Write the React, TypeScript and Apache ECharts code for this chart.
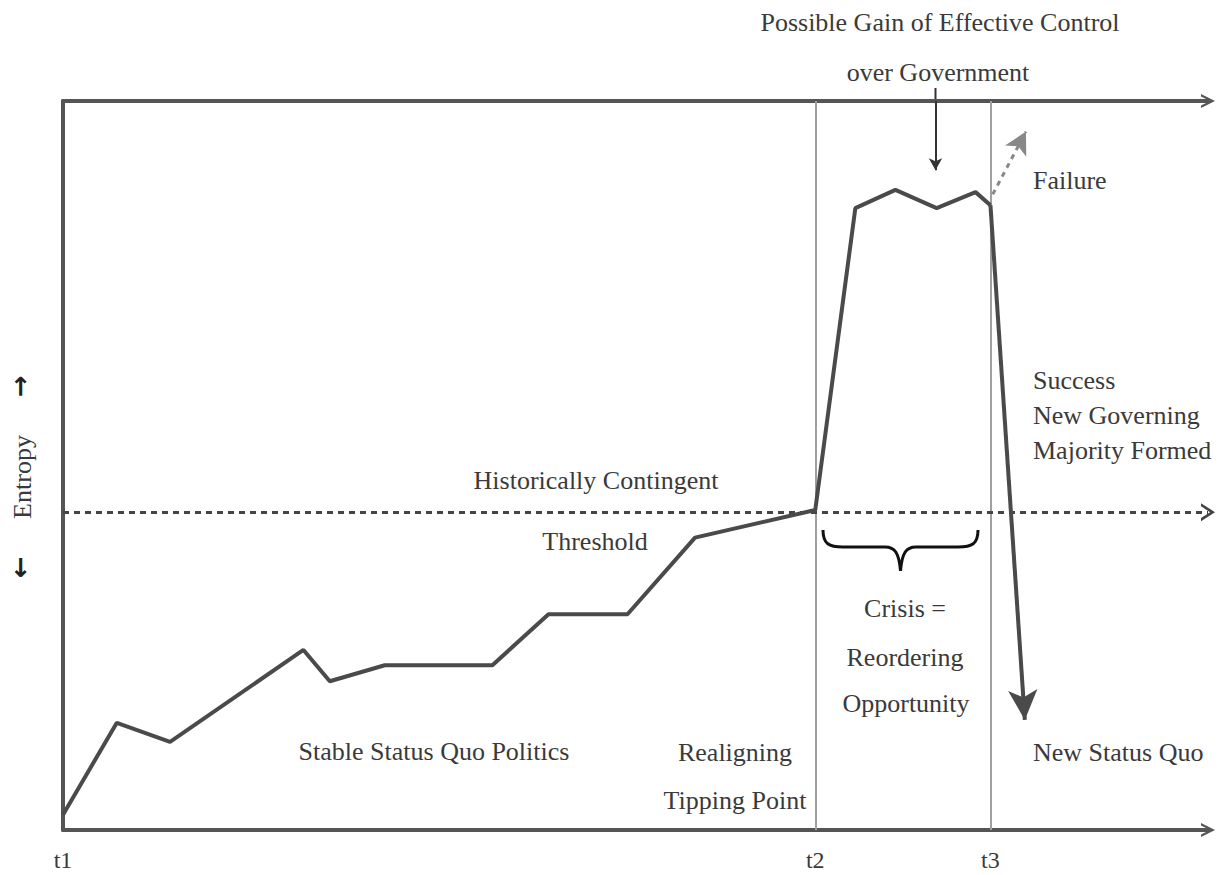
import React, { useEffect, useRef } from "react";
import * as echarts from "echarts";

// Entropy path (x: time 0-100, y: entropy 0-100)
const pathX = [0, 4.7, 9.35, 21.0, 23.3, 28.1, 37.5, 42.4, 49.3, 55.2, 65.7, 69.2, 72.7, 76.3, 79.7, 81.0];
const pathY = [2.1, 14.7, 12.1, 24.7, 20.4, 22.6, 22.6, 29.6, 29.6, 40.1, 43.9, 85.3, 87.8, 85.3, 87.5, 85.7];
const dropEnd = [84.0, 15.1];
const failureStart = [81.2, 87.2];
const failureEnd = [84.1, 95.8];
const gainArrowX = 76.2;
const gainArrowY = [100, 90.5];
const thresholdY = 43.6;
const timeMarks = [0, 65.7, 81.0];
const timeLabels = ["t1", "t2", "t3"];

const CHEVRON = "path://M0,20 L10,0 L20,20 L16.5,20 L10,7 L3.5,20 Z";
const BRACE =
  "M0,0 C0,14 6,17 20,17 L62,17 C72,17 76,23 77.5,41 C79,23 83,17 93,17 L135,17 C149,17 155,14 155,0";

echarts.graphic.registerShape("brace", (echarts.graphic as any).extendPath(BRACE, {}));

const FONT = "'Liberation Serif', 'DejaVu Serif', serif";
const TXT = "#3a3a3a";

function txt(text: string, x: number, y: number, align: string = "center", extra: any = {}) {
  return {
    type: "text",
    x,
    y,
    ...extra,
    style: {
      text,
      fontFamily: FONT,
      fontSize: 26,
      fill: TXT,
      align,
      verticalAlign: "middle",
    },
  };
}

export default function App() {
  const ref = useRef<HTMLDivElement>(null);
  useEffect(() => {
    if (!ref.current) return;
    const chart = echarts.init(ref.current, undefined, { renderer: "svg" });
    const data = pathX.map((x, i) => [x, pathY[i]]);
    const last = data[data.length - 1];
    const graphics: any[] = [
      txt("Possible Gain of Effective Control", 940, 22),
      txt("over Government", 938, 72),
      txt("Failure", 1033, 180, "left"),
      txt("Success", 1033, 380, "left"),
      txt("New Governing", 1033, 415, "left"),
      txt("Majority Formed", 1033, 450, "left"),
      txt("Historically Contingent", 596, 480),
      txt("Threshold", 595, 541),
      txt("Crisis =", 905, 608),
      txt("Reordering", 905, 657),
      txt("Opportunity", 906, 703),
      txt("Stable Status Quo Politics", 434, 751),
      txt("Realigning", 735, 752),
      txt("Tipping Point", 735, 800),
      txt("New Status Quo", 1033, 752, "left"),
      {
        type: "text",
        x: 22,
        y: 477,
        rotation: Math.PI / 2,
        style: { text: "Entropy", fontFamily: FONT, fontSize: 26, fill: TXT, align: "center", verticalAlign: "middle" },
      },
      {
        type: "text",
        x: 20,
        y: 386,
        rotation: Math.PI / 2,
        style: { text: "→", fontFamily: "DejaVu Sans", fontSize: 26, fontWeight: "bold", fill: "#222", align: "center", verticalAlign: "middle" },
      },
      {
        type: "text",
        x: 20,
        y: 567,
        rotation: Math.PI / 2,
        style: { text: "←", fontFamily: "DejaVu Sans", fontSize: 26, fontWeight: "bold", fill: "#222", align: "center", verticalAlign: "middle" },
      },
      {
        type: "brace",
        x: 823,
        y: 530,
        style: { fill: "none", stroke: "#111", lineWidth: 3 },
      },
    ];
    chart.setOption({
      animation: false,
      backgroundColor: "#ffffff",
      grid: { left: 63, right: 12, top: 101, bottom: 45 },
      xAxis: [
        {
          type: "value",
          min: 0,
          max: 100,
          position: "bottom",
          splitLine: { show: false },
          axisTick: { show: false },
          axisLine: {
            show: true,
            onZero: false,
            symbol: ["none", CHEVRON],
            symbolSize: [18, 14],
            lineStyle: { color: "#555", width: 4 },
          },
          axisLabel: {
            show: true,
            customValues: timeMarks,
            formatter: (v: number) => {
              const i = timeMarks.findIndex((t) => Math.abs(t - v) < 0.01);
              return i >= 0 ? timeLabels[i] : "";
            },
            fontFamily: FONT,
            fontSize: 24,
            color: TXT,
            margin: 18,
          },
        },
        {
          type: "value",
          min: 0,
          max: 100,
          position: "top",
          splitLine: { show: false },
          axisTick: { show: false },
          axisLabel: { show: false },
          axisLine: {
            show: true,
            onZero: false,
            symbol: ["none", CHEVRON],
            symbolSize: [18, 14],
            lineStyle: { color: "#555", width: 4 },
          },
        },
      ],
      yAxis: {
        type: "value",
        min: 0,
        max: 100,
        splitLine: { show: false },
        axisTick: { show: false },
        axisLabel: { show: false },
        axisLine: { show: true, onZero: false, lineStyle: { color: "#555", width: 4 } },
      },
      series: [
        {
          type: "line",
          data,
          clip: false,
          symbol: "none",
          lineStyle: { color: "#4a4a4a", width: 4 },
          z: 5,
          markLine: {
            silent: true,
            label: { show: false },
            data: [
              [
                { coord: [timeMarks[1], 0], symbol: "none", lineStyle: { color: "#a0a0a0", width: 2, type: "solid" } },
                { coord: [timeMarks[1], 100], symbol: "none" },
              ],
              [
                { coord: [timeMarks[2], 0], symbol: "none", lineStyle: { color: "#a0a0a0", width: 2, type: "solid" } },
                { coord: [timeMarks[2], 100], symbol: "none" },
              ],
              [
                { coord: [0, thresholdY], symbol: "none", lineStyle: { color: "#444", width: 3, type: [6, 5] } },
                { coord: [100, thresholdY], symbol: CHEVRON, symbolSize: [18, 14] },
              ],
              [
                { coord: last, symbol: "none", lineStyle: { color: "#4a4a4a", width: 4, type: "solid" } },
                { coord: dropEnd, symbol: "arrow", symbolSize: [22, 30] },
              ],
              [
                { coord: failureStart, symbol: "none", lineStyle: { color: "#888", width: 3, type: [5, 5] } },
                { coord: failureEnd, symbol: "arrow", symbolSize: [18, 22] },
              ],
              [
                { coord: [gainArrowX, gainArrowY[0]], symbol: "none", lineStyle: { color: "#333", width: 2, type: "solid" } },
                { coord: [gainArrowX, gainArrowY[1]], symbol: "arrow", symbolSize: [10, 12] },
              ],
            ],
          },
        },
      ],
      graphic: graphics,
    });
    // stem of the "gain" arrow above the top axis, aligned with the axis scale
    const gx = chart.convertToPixel({ xAxisIndex: 0 }, gainArrowX) as number;
    chart.setOption({
      graphic: [
        ...graphics,
        {
          type: "line",
          shape: { x1: gx, y1: 88, x2: gx, y2: 101 },
          style: { stroke: "#333", lineWidth: 2 },
        },
      ],
    });
    return () => chart.dispose();
  }, []);
  return <div ref={ref} style={{ position: "absolute", left: 0, top: 0, width: 1220, height: 875 }} />;
}
